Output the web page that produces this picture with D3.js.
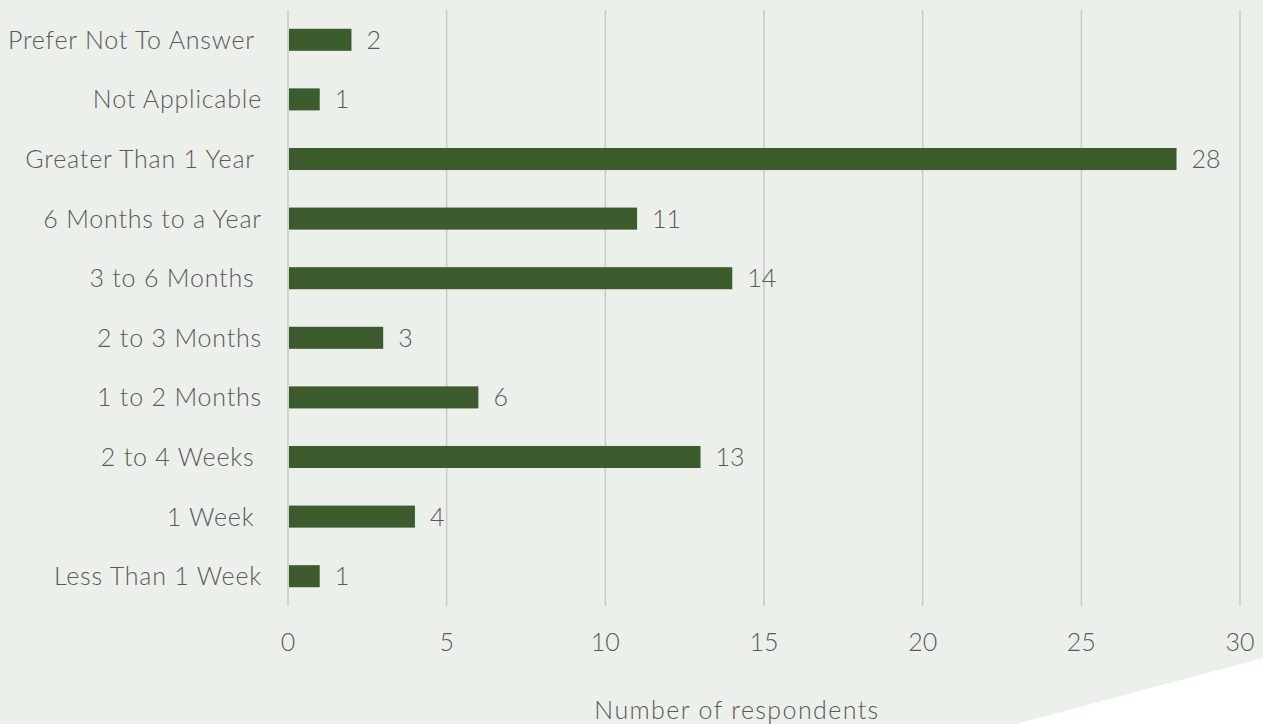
<!DOCTYPE html>
<html><head><meta charset="utf-8">
<script src="https://cdn.jsdelivr.net/npm/d3@7"></script>
<style>
html,body{margin:0;padding:0;background:#ecf0eb;}
svg{display:block;}
text{font-family:Lato,"Open Sans",sans-serif;font-weight:300;fill:#595959;white-space:pre;}
</style></head>
<body>
<svg id="chart" width="1263" height="724"></svg>
<script>
const categories = ["Prefer Not To Answer ","Not Applicable","Greater Than 1 Year ","6 Months to a Year","3 to 6 Months ","2 to 3 Months","1 to 2 Months","2 to 4 Weeks ","1 Week ","Less Than 1 Week"];
const values = [2,1,28,11,14,3,6,13,4,1];
const xTicks = [0,5,10,15,20,25,30];
const axisTitle = "Number of respondents";

const FS = 25;
const svg = d3.select("#chart");
svg.append("rect").attr("width",1263).attr("height",724).attr("fill","#ecf0eb");
svg.append("polygon").attr("points","1263,658 1263,724 1016,724").attr("fill","#ffffff");

const x = d3.scaleLinear().domain([0,30]).range([288,1240]);
const y = d3.scaleBand().domain(categories).range([10,606]).paddingInner(0.63).paddingOuter(0.315);

svg.append("g").selectAll("line").data(xTicks).join("line")
  .attr("x1",d=>x(d)).attr("x2",d=>x(d)).attr("y1",10).attr("y2",606)
  .attr("stroke","#c9cbc8").attr("stroke-width",1.5);

svg.append("g").selectAll("text").data(xTicks).join("text")
  .attr("x",d=>x(d)).attr("y",651).attr("text-anchor","middle")
  .attr("font-size",FS).text(d=>d);

svg.append("g").selectAll("rect").data(values).join("rect")
  .attr("x",x(0)+1).attr("y",(d,i)=>y(categories[i]))
  .attr("width",d=>x(d)-x(0)-1).attr("height",y.bandwidth())
  .attr("fill","#3d5c2e");

svg.append("g").selectAll("text").data(values).join("text")
  .attr("x",d=>x(d)+15).attr("y",(d,i)=>y(categories[i])+y.bandwidth()/2+9)
  .attr("font-size",FS).text(d=>d);

svg.append("g").selectAll("text").data(categories).join("text")
  .attr("x",262).attr("y",d=>y(d)+y.bandwidth()/2+9)
  .attr("text-anchor","end").attr("font-size",FS).attr("letter-spacing",0.8).text(d=>d);

svg.append("text").attr("x",737).attr("y",719).attr("text-anchor","middle")
  .attr("font-size",FS).attr("letter-spacing",1.4).text(axisTitle);
</script>
</body></html>
